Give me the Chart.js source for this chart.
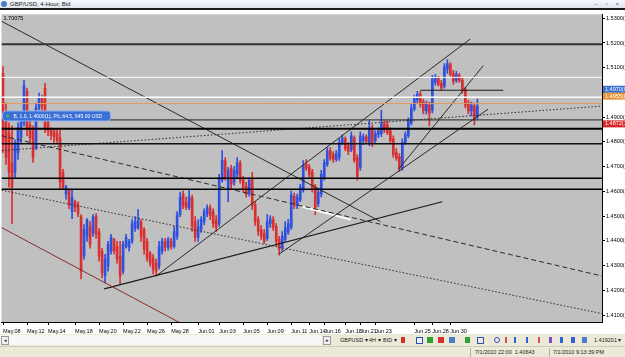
<!DOCTYPE html>
<html>
<head>
<meta charset="utf-8">
<script src="https://cdn.jsdelivr.net/npm/chart.js@4.4.1/dist/chart.umd.min.js"></script>
<style>
  body { margin: 0; width: 625px; height: 357px; overflow: hidden; background: #fff; font-family: "Liberation Sans", Arial, sans-serif; }
  #title { position: absolute; left: 0; top: 0; width: 625px; height: 8px; background: linear-gradient(#f6f8fb, #dfe5ee); border-bottom: 2px solid #1a1a1a; font-size: 6px; line-height: 8px; color: #222; }
  #title .ico { position: absolute; left: 1px; top: 1px; width: 6px; height: 6px; border-radius: 3px; background: #4a7fc8; }
  #title .txt { position: absolute; left: 10px; top: 0; }
  #title .btn { position: absolute; right: 3px; top: 0; color: #666; letter-spacing: 3px; }
  #wrap { position: absolute; left: 0; top: 10px; width: 625px; height: 324px; }
  #toolbar { position: absolute; left: 0; top: 334px; width: 625px; height: 12px; background: #ece9d8; font-size: 5.5px; line-height: 12px; color: #222; }
  #toolbar .tabs { position: absolute; left: 0; top: 1px; width: 322px; height: 10px; background: #f7f7f7; }
  #toolbar .sb { position: absolute; top: 2px; width: 6px; height: 7px; border: 1px solid #9a9a9a; background: #f0f0f0; font-size: 5px; line-height: 7px; text-align: center; }
  #toolbar span { position: absolute; top: 0; }
  #toolbar i { position: absolute; top: 3px; width: 6px; height: 6px; }
  #status { position: absolute; left: 0; top: 346px; width: 625px; height: 11px; background: #ece9d8; border-top: 1px solid #cfcbb8; font-size: 5.5px; line-height: 11px; color: #222; }
  #status span { position: absolute; top: 0; }
  #status b { position: absolute; top: 1px; width: 1px; height: 9px; background: #b8b4a2; }
</style>
</head>
<body>
<div id="title"><div class="ico"></div><div class="txt">GBP/USD, 4-Hour, Bid</div><div class="btn">– ▫ ×</div></div>
<div id="wrap"><canvas id="chart" width="625" height="324"></canvas></div>
<div id="toolbar">
  <div class="tabs"></div>
  <div class="sb" style="left:1px">◂</div>
  <div class="sb" style="left:323px">▸</div>
  <span style="left:340px">GBPUSD ▾</span>
  <span style="left:369px">4H ▾</span>
  <span style="left:383px">BID ▾</span>
  <i style="left:401px;background:#d83030;width:4px"></i>
  <i style="left:416px;border:1px solid #3050c0;width:5px;height:5px;background:#eef"></i>
  <i style="left:427px;background:#30a030"></i>
  <i style="left:438px;background:#d83030"></i>
  <i style="left:449px;background:#4a7fc8"></i>
  <i style="left:465px;background:#30a030;width:5px"></i>
  <i style="left:477px;border:1px solid #3050c0;width:5px;height:5px"></i>
  <i style="left:494px;border:1px solid #3050c0;border-radius:3px;width:4px;height:4px"></i>
  <i style="left:505px;background:#d85050;width:2px"></i>
  <i style="left:514px;background:#3060d0;width:2px"></i>
  <i style="left:526px;background:#3060d0;width:2px"></i>
  <i style="left:538px;background:#d85050;width:2px"></i>
  <i style="left:549px;background:#8050c0;width:3px"></i>
  <i style="left:560px;background:#3060d0;width:3px"></i>
  <i style="left:571px;background:#3060d0;width:4px"></i>
  <i style="left:582px;background:#4a7fc8;width:5px"></i>
  <span style="left:594px">1.419201 ▾</span>
</div>
<div id="status">
  <b style="left:470px"></b>
  <span style="left:475px">7/1/2010 22:00&nbsp;&nbsp;1.40643</span>
  <b style="left:549px"></b>
  <span style="left:553px">7/1/2010 9:13:39 PM</span>
</div>
<script>
// --- candle data (GBP/USD 4H), bar index 0 = first bar at the left edge ---
const opens = [
  1.5077,1.4917,1.4837,1.4717,1.4677,1.4757,1.4817,1.4877,1.5005,1.4869,
  1.4845,1.4777,1.4937,1.4977,1.5017,1.4897,1.4849,1.4845,1.4837,1.4817,
  1.4677,1.4589,1.4605,1.4518,1.4558,1.4546,1.4498,1.4338,1.4418,1.4458,
  1.4430,1.4498,1.4438,1.4358,1.4258,1.4298,1.4358,1.4406,1.4378,1.4338,
  1.4278,1.4378,1.4374,1.4398,1.4450,1.4454,1.4478,1.4446,1.4398,1.4350,
  1.4330,1.4310,1.4298,1.4358,1.4398,1.4374,1.4398,1.4378,1.4418,1.4506,
  1.4589,1.4558,1.4534,1.4573,1.4478,1.4414,1.4446,1.4478,1.4510,1.4534,
  1.4518,1.4486,1.4470,1.4645,1.4725,1.4613,1.4693,1.4637,1.4669,1.4713,
  1.4649,1.4621,1.4593,1.4653,1.4546,1.4486,1.4446,1.4430,1.4410,1.4470,
  1.4486,1.4458,1.4406,1.4374,1.4406,1.4434,1.4454,1.4581,1.4542,1.4565,
  1.4605,1.4709,1.4697,1.4677,1.4617,1.4550,1.4589,1.4657,1.4709,1.4765,
  1.4749,1.4729,1.4737,1.4797,1.4813,1.4785,1.4769,1.4817,1.4737,1.4697,
  1.4805,1.4821,1.4797,1.4853,1.4805,1.4829,1.4833,1.4873,1.4869,1.4845,
  1.4813,1.4757,1.4741,1.4697,1.4797,1.4825,1.4877,1.4933,1.4969,1.4993,
  1.4961,1.4925,1.4949,1.4929,1.5041,1.5057,1.5037,1.5025,1.5093,1.5113,
  1.5077,1.5049,1.5069,1.5049,1.5013,1.4957,1.4925,1.4945,1.4901
];
const highs = [
  1.5105,1.4957,1.4877,1.4865,1.4809,1.4877,1.4917,1.5049,1.5017,1.4885,
  1.4865,1.4957,1.4997,1.4989,1.5037,1.4905,1.4857,1.4853,1.4849,1.4849,
  1.4689,1.4625,1.4609,1.4609,1.4565,1.4558,1.4506,1.4466,1.4490,1.4478,
  1.4506,1.4510,1.4450,1.4370,1.4346,1.4398,1.4426,1.4410,1.4398,1.4398,
  1.4398,1.4426,1.4406,1.4486,1.4498,1.4526,1.4486,1.4454,1.4410,1.4358,
  1.4346,1.4326,1.4398,1.4410,1.4410,1.4414,1.4410,1.4458,1.4518,1.4597,
  1.4601,1.4577,1.4605,1.4585,1.4498,1.4486,1.4498,1.4530,1.4546,1.4546,
  1.4530,1.4502,1.4669,1.4765,1.4737,1.4697,1.4705,1.4701,1.4737,1.4725,
  1.4661,1.4637,1.4657,1.4677,1.4558,1.4498,1.4462,1.4446,1.4506,1.4502,
  1.4498,1.4470,1.4418,1.4438,1.4478,1.4486,1.4601,1.4593,1.4589,1.4629,
  1.4725,1.4729,1.4709,1.4689,1.4629,1.4613,1.4685,1.4729,1.4777,1.4777,
  1.4761,1.4765,1.4813,1.4829,1.4821,1.4797,1.4841,1.4825,1.4749,1.4841,
  1.4833,1.4829,1.4885,1.4869,1.4845,1.4857,1.4929,1.4885,1.4885,1.4857,
  1.4825,1.4773,1.4753,1.4813,1.4841,1.4897,1.4953,1.4989,1.5005,1.5005,
  1.4973,1.4965,1.4961,1.5069,1.5073,1.5065,1.5049,1.5117,1.5133,1.5121,
  1.5089,1.5085,1.5077,1.5061,1.5021,1.4969,1.4961,1.4957,1.4973
];
const lows = [
  1.4757,1.4709,1.4617,1.4470,1.4657,1.4729,1.4797,1.4865,1.4825,1.4797,
  1.4717,1.4769,1.4929,1.4925,1.4837,1.4825,1.4809,1.4797,1.4797,1.4609,
  1.4609,1.4569,1.4530,1.4490,1.4518,1.4498,1.4246,1.4326,1.4398,1.4370,
  1.4418,1.4410,1.4318,1.4250,1.4230,1.4278,1.4346,1.4346,1.4310,1.4226,
  1.4266,1.4370,1.4358,1.4390,1.4438,1.4446,1.4398,1.4346,1.4318,1.4298,
  1.4266,1.4258,1.4286,1.4346,1.4358,1.4362,1.4366,1.4370,1.4406,1.4498,
  1.4530,1.4526,1.4526,1.4438,1.4398,1.4398,1.4434,1.4466,1.4498,1.4486,
  1.4454,1.4438,1.4458,1.4637,1.4645,1.4558,1.4613,1.4625,1.4653,1.4633,
  1.4597,1.4577,1.4581,1.4526,1.4462,1.4422,1.4406,1.4390,1.4402,1.4454,
  1.4442,1.4378,1.4342,1.4358,1.4398,1.4426,1.4446,1.4530,1.4530,1.4558,
  1.4597,1.4685,1.4657,1.4597,1.4506,1.4538,1.4577,1.4645,1.4701,1.4725,
  1.4717,1.4721,1.4725,1.4789,1.4765,1.4749,1.4761,1.4717,1.4645,1.4685,
  1.4789,1.4793,1.4785,1.4781,1.4797,1.4817,1.4821,1.4837,1.4829,1.4793,
  1.4737,1.4725,1.4681,1.4685,1.4789,1.4817,1.4869,1.4925,1.4957,1.4941,
  1.4913,1.4913,1.4865,1.4917,1.5029,1.5025,1.5009,1.5017,1.5077,1.5065,
  1.5033,1.5041,1.5041,1.4997,1.4937,1.4913,1.4905,1.4869,1.4893
];
const closes = [
  1.4797,1.4737,1.4677,1.4617,1.4797,1.4857,1.4897,1.5029,1.4857,1.4817,
  1.4737,1.4937,1.4977,1.4945,1.4857,1.4845,1.4825,1.4821,1.4805,1.4637,
  1.4617,1.4617,1.4546,1.4577,1.4534,1.4510,1.4278,1.4446,1.4486,1.4386,
  1.4498,1.4426,1.4338,1.4270,1.4326,1.4386,1.4414,1.4358,1.4326,1.4258,
  1.4386,1.4414,1.4398,1.4470,1.4478,1.4486,1.4418,1.4366,1.4330,1.4310,
  1.4286,1.4278,1.4378,1.4398,1.4374,1.4406,1.4378,1.4438,1.4506,1.4577,
  1.4542,1.4534,1.4577,1.4458,1.4414,1.4458,1.4486,1.4518,1.4534,1.4502,
  1.4470,1.4454,1.4657,1.4725,1.4653,1.4685,1.4629,1.4685,1.4717,1.4645,
  1.4613,1.4589,1.4645,1.4542,1.4478,1.4438,1.4418,1.4398,1.4478,1.4490,
  1.4454,1.4398,1.4366,1.4418,1.4454,1.4470,1.4585,1.4542,1.4577,1.4617,
  1.4705,1.4693,1.4669,1.4609,1.4534,1.4597,1.4669,1.4717,1.4765,1.4733,
  1.4729,1.4753,1.4797,1.4817,1.4773,1.4761,1.4825,1.4725,1.4661,1.4825,
  1.4821,1.4801,1.4857,1.4797,1.4833,1.4845,1.4873,1.4849,1.4837,1.4805,
  1.4749,1.4733,1.4693,1.4797,1.4829,1.4885,1.4937,1.4977,1.4993,1.4953,
  1.4925,1.4953,1.4917,1.5053,1.5061,1.5033,1.5017,1.5105,1.5117,1.5073,
  1.5045,1.5073,1.5049,1.5009,1.4949,1.4925,1.4949,1.4893,1.4945
];

// --- axes ---
const priceTicks = [1.41, 1.42, 1.43, 1.44, 1.45, 1.46, 1.47, 1.48, 1.49, 1.50, 1.51, 1.52, 1.53];
const dateLabels = ['May.08','May.12','May.14','May.18','May.20','May.22','May.26','May.28','Jun.01','Jun.03','Jun.05',
                    'Jun.09','Jun.11','Jun.14','Jun.16','Jun.18','Jun.21','Jun.23','Jun.25','Jun.28','Jun.30'];
const dateBars = [0, 8, 15, 24, 32, 40, 48, 56, 65, 72, 80, 88, 96, 102, 107, 114, 119, 124, 137, 143, 149];

// --- drawn objects (prices, bar index) ---
const hLevels = [1.5195, 1.5061, 1.4981, 1.4955, 1.4889, 1.4853, 1.4793, 1.4653, 1.4609];
// [bar1, price1, bar2, price2]
const trendLines = [
  [-0.5, 1.5288, 125.7, 1.4478],
  [-0.5, 1.4825, 199.5, 1.4258],
  [-0.5, 1.4605, 199.5, 1.4106],
  [-0.5, 1.4765, 199.5, 1.4945],
  [-0.5, 1.4454, 60.0, 1.4062],
  [33.7, 1.4206, 146.3, 1.4558],
  [51.0, 1.4258, 155.6, 1.5216],
  [91.9, 1.4346, 161.6, 1.4933],
  [131.7, 1.4689, 160.0, 1.5109],
  [99.8, 1.4538, 115.8, 1.4486],
  [139.0, 1.5009, 166.6, 1.5009]
];
const axisMarks = [1.5013, 1.4985, 1.4873];
const axisMarkText = ['1.4970(0', '1.4955(0', '1.4872(1'];
const tradeLabelPrice = 1.4905;
const tradeLabelText = 'B, 1.0, 1.4000(1), P/L:64.5, 645.00 USD';

const BLUE = '#3050e0', RED = '#d83030';
const levelStyle = [['#333', 2], ['#fff', 1], ['#fff', 1.5], ['#e39a5a', 1], ['#222', 1],
                    ['#000', 2], ['#111', 1.5], ['#000', 1.5], ['#000', 1.5]];
const lineStyle = [
  ['#2a2a2a', 1, []], ['#2a2a2a', 1, [5, 3]], ['#2a2a2a', 1, [1.5, 2]], ['#2a2a2a', 1, [1.5, 2]],
  ['#8a2a2a', 1, []], ['#1a1a1a', 1.2, []], ['#2a2a2a', 1, []], ['#2a2a2a', 1, []],
  ['#2a2a2a', 1, []], ['#ffffff', 2, []], ['#1a1a1a', 1, []]
];

const up = closes.map((c, i) => c >= opens[i]);
const colors = up.map(u => u ? BLUE : RED);

const datasets = [];
hLevels.forEach((p, i) => datasets.push({
  type: 'line', data: [{x: -0.5, y: p}, {x: 199.5, y: p}],
  borderColor: levelStyle[i][0], borderWidth: levelStyle[i][1], pointRadius: 0, order: 0
}));
trendLines.forEach((t, i) => datasets.push({
  type: 'line', data: [{x: t[0], y: t[1]}, {x: t[2], y: t[3]}],
  borderColor: lineStyle[i][0], borderWidth: lineStyle[i][1], borderDash: lineStyle[i][2],
  pointRadius: 0, order: 0
}));
datasets.push({
  type: 'bar', data: opens.map((o, i) => ({x: i, y: [o, closes[i]]})),
  backgroundColor: colors, barThickness: 2, grouped: false, order: 1
});
datasets.push({
  type: 'bar', data: lows.map((l, i) => ({x: i, y: [l, highs[i]]})),
  backgroundColor: colors, barThickness: 1, grouped: false, order: 2
});

const tickFont = { family: '"Liberation Sans", Arial, sans-serif', size: 5.5 };

const mt4Plugin = {
  id: 'mt4',
  beforeDraw(chart) {
    const { ctx, chartArea: a } = chart;
    ctx.save();
    ctx.fillStyle = '#fff';
    ctx.fillRect(0, 0, chart.width, chart.height);
    ctx.fillStyle = '#c0c0c0';
    ctx.fillRect(a.left, a.top, a.right - a.left, a.bottom - a.top);
    ctx.restore();
  },
  afterDraw(chart) {
    const { ctx, chartArea: a, scales } = chart;
    const y = scales.y;
    ctx.save();
    ctx.font = '5.5px "Liberation Sans", Arial, sans-serif';
    ctx.textBaseline = 'middle';
    ctx.fillStyle = '#000';
    ctx.fillText('1.70075', a.left + 2, a.top + 4);

    // trade label box
    const ty = y.getPixelForValue(tradeLabelPrice);
    ctx.fillStyle = '#3a6fd6';
    ctx.strokeStyle = '#8fb0f0';
    ctx.beginPath();
    ctx.roundRect(a.left + 1, ty - 5, 108, 10, 3);
    ctx.fill();
    ctx.stroke();
    ctx.fillStyle = '#3cc060';
    ctx.beginPath();
    ctx.arc(a.left + 6, ty, 1.5, 0, Math.PI * 2);
    ctx.fill();
    ctx.fillStyle = '#fff';
    ctx.font = '5px "Liberation Sans", Arial, sans-serif';
    ctx.fillText(tradeLabelText, a.left + 12, ty + 0.5);

    // price boxes on the right axis
    const boxColor = ['#3a6fd6', '#e8923a', '#d82828'];
    axisMarks.forEach((p, i) => {
      const py = y.getPixelForValue(p);
      ctx.fillStyle = boxColor[i];
      ctx.fillRect(a.right + 1, py - 3.5, 23, 7);
      ctx.fillStyle = '#fff';
      ctx.font = '5.5px "Liberation Sans", Arial, sans-serif';
      ctx.fillText(axisMarkText[i], a.right + 3, py);
    });
    ctx.restore();
  }
};

new Chart(document.getElementById('chart'), {
  type: 'bar',
  data: { datasets },
  options: {
    responsive: false,
    animation: false,
    devicePixelRatio: 1,
    layout: { padding: 0 },
    plugins: { legend: { display: false }, tooltip: { enabled: false } },
    elements: { line: { tension: 0 }, bar: { borderWidth: 0, borderSkipped: false } },
    scales: {
      x: {
        type: 'linear', min: -0.5, max: 199.5, offset: false,
        afterFit: s => { s.height = 12; },
        afterBuildTicks: s => { s.ticks = dateBars.map(v => ({ value: v })); },
        grid: { display: true, drawOnChartArea: false, offset: false, color: '#000', tickLength: 3 },
        border: { color: '#000' },
        ticks: {
          autoSkip: false, maxRotation: 0, align: 'start', padding: 3, color: '#000', font: tickFont,
          callback: v => { const k = dateBars.indexOf(v); return k >= 0 ? dateLabels[k] : ''; }
        }
      },
      y: {
        type: 'linear', position: 'right', min: 1.4072, max: 1.5316,
        afterFit: s => { s.width = 23; },
        afterBuildTicks: s => { s.ticks = priceTicks.map(v => ({ value: v })); },
        grid: { display: true, drawOnChartArea: false, color: '#000', tickLength: 3 },
        border: { color: '#000' },
        ticks: { padding: 1, color: '#000', font: tickFont, callback: v => v.toFixed(4) + '(0)' }
      }
    }
  },
  plugins: [mt4Plugin]
});
</script>
</body>
</html>
